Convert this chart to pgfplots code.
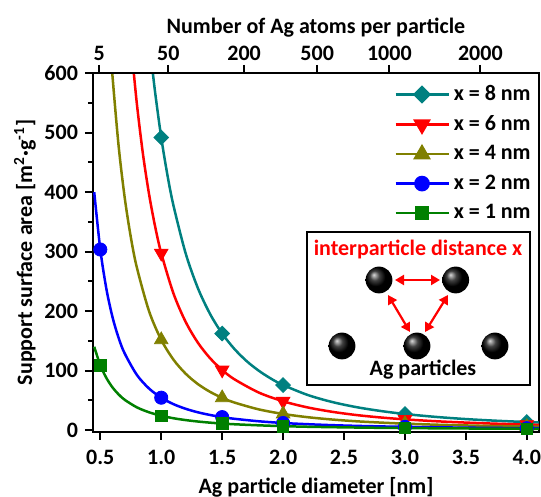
\documentclass[border=0pt]{standalone}
\usepackage{fontspec}
\setmainfont{Carlito}
\usepackage{pgfplots}
\pgfplotsset{compat=1.18}
\usetikzlibrary{arrows.meta}
\definecolor{cteal}{RGB}{0,128,128}
\definecolor{cred}{RGB}{255,0,0}
\definecolor{colive}{RGB}{128,128,0}
\definecolor{cblue}{RGB}{0,0,255}
\definecolor{cgreen}{RGB}{0,128,0}
\newcommand\ff{\bfseries\fontsize{11}{13.2}\selectfont}
\begin{document}
\begin{tikzpicture}
\begin{axis}[
  width=223pt, height=179.5pt, scale only axis,
  xmin=0.44, xmax=4.1, ymin=-3, ymax=600,
  axis line style={line width=1pt},
  xtick={0.5,1.0,1.5,2.0,2.5,3.0,3.5,4.0},
  ytick={0,100,200,300,400,500,600},
  minor y tick num=1,
  xtick pos=bottom, ytick pos=left,
  tick align=outside,
  major tick length=4pt, minor tick length=2.5pt,
  every tick/.style={line width=1pt, black},
  /pgf/number format/assume math mode=true,
  tick label style={font=\ff},
  xticklabel style={yshift=-1.5pt, /pgf/number format/.cd, fixed, fixed zerofill, precision=1},
  label style={font=\ff},
  xlabel={Ag particle diameter [nm]},
  ylabel={Support surface area [m\textsuperscript{2}·g\textsuperscript{-1}]},
  xlabel style={at={(axis description cs:0.5,-0.1532)}, anchor=center},
  ylabel style={at={(axis description cs:-0.1525,0.5)}, anchor=center},
  legend image code/.code={\draw[mark repeat=2,mark phase=2] plot coordinates {(0pt,0pt) (13.25pt,0pt) (26.5pt,0pt)};},
  legend style={draw=none, fill=none, font=\ff, at={(axis description cs:1,1)}, anchor=north east, xshift=-1pt, yshift=-3pt, row sep=2pt, inner sep=1pt},
  legend cell align=left,
]
\addlegendimage{cteal, line width=1.25pt, mark=square*, mark size=2.6pt, mark options={rotate=45, fill=cteal, solid}}
\addlegendentry{x = 8 nm}
\addlegendimage{cred, line width=1.25pt, mark=triangle*, mark size=3.9pt, mark options={rotate=180, fill=cred, solid}}
\addlegendentry{x = 6 nm}
\addlegendimage{colive, line width=1.25pt, mark=triangle*, mark size=3.9pt, mark options={fill=colive, solid}}
\addlegendentry{x = 4 nm}
\addlegendimage{cblue, line width=1.25pt, mark=*, mark size=3.3pt, mark options={fill=cblue, solid}}
\addlegendentry{x = 2 nm}
\addlegendimage{cgreen, line width=1.25pt, mark=square*, mark size=2.9pt, mark options={fill=cgreen, solid}}
\addlegendentry{x = 1 nm}

% x = 8 nm
\addplot[cteal, line width=1.25pt, smooth, no marks, forget plot] coordinates {
(0.92,620.2)(0.95,567.1)(1.0,491.7)(1.05,429.5)(1.1,377.7)(1.2,297.3)(1.3,239.0)(1.4,195.5)(1.5,162.3)(1.6,136.6)(1.7,116.2)(1.8,100.0)(1.9,86.7)(2.0,75.9)(2.2,59.3)(2.4,47.5)(2.6,38.8)(2.8,32.3)(3.0,27.2)(3.25,22.4)(3.5,18.7)(3.75,15.9)(4.0,13.7)(4.1,12.9)};
\addplot[cteal, only marks, mark=square*, mark size=2.6pt, mark options={rotate=45, fill=cteal}, forget plot] coordinates {
(1.0,491.7)(1.5,162.3)(2.0,75.9)(3.0,27.2)(4.0,13.7)};
% x = 6 nm
\addplot[cred, line width=1.25pt, smooth, no marks, forget plot] coordinates {
(0.76,631.9)(0.8,548.2)(0.85,463.8)(0.9,396.4)(0.95,342.0)(1.0,297.4)(1.1,229.9)(1.2,182.1)(1.3,147.2)(1.4,121.1)(1.5,101.2)(1.6,85.6)(1.8,63.3)(2.0,48.6)(2.2,38.3)(2.4,31.0)(2.6,25.5)(2.8,21.4)(3.0,18.2)(3.25,15.1)(3.5,12.8)(3.75,10.9)(4.0,9.5)(4.1,9.0)};
\addplot[cred, only marks, mark=triangle*, mark size=3.9pt, mark options={rotate=180, fill=cred}, forget plot] coordinates {
(1.0,297.4)(1.5,101.2)(2.0,48.6)(3.0,18.2)(4.0,9.5)};
% x = 4 nm
\addplot[colive, line width=1.25pt, smooth, no marks, forget plot] coordinates {
(0.58,652.6)(0.6,594.6)(0.65,477.9)(0.7,390.9)(0.75,324.6)(0.8,273.2)(0.9,199.9)(1.0,151.8)(1.1,118.6)(1.2,95.0)(1.3,77.6)(1.4,64.5)(1.5,54.4)(1.6,46.5)(1.8,35.0)(2.0,27.3)(2.2,21.9)(2.4,18.0)(2.6,15.0)(2.8,12.8)(3.0,11.0)(3.25,9.3)(3.5,8.0)(3.75,6.9)(4.0,6.1)(4.1,5.8)};
\addplot[colive, only marks, mark=triangle*, mark size=3.9pt, mark options={fill=colive}, forget plot] coordinates {
(1.0,151.8)(1.5,54.4)(2.0,27.3)(3.0,11.0)(4.0,6.1)};
% x = 2 nm
\addplot[cblue, line width=1.25pt, smooth, no marks, forget plot] coordinates {
(0.45,399.8)(0.5,303.5)(0.55,237.2)(0.6,190.0)(0.65,155.2)(0.7,129.0)(0.8,92.9)(0.9,70.0)(1.0,54.6)(1.1,43.8)(1.2,36.0)(1.3,30.1)(1.4,25.6)(1.5,22.0)(1.6,19.2)(1.8,15.0)(2.0,12.1)(2.2,10.1)(2.4,8.5)(2.6,7.3)(2.8,6.4)(3.0,5.6)(3.25,4.9)(3.5,4.3)(3.75,3.8)(4.0,3.4)(4.1,3.3)};
\addplot[cblue, only marks, mark=*, mark size=3.3pt, mark options={fill=cblue}, forget plot] coordinates {
(0.5,303.5)(1.0,54.6)(1.5,22.0)(2.0,12.1)(3.0,5.6)(4.0,3.4)};
% x = 1 nm
\addplot[cgreen, line width=1.25pt, smooth, no marks, forget plot] coordinates {
(0.45,140.1)(0.5,109.3)(0.55,87.7)(0.6,71.9)(0.65,60.2)(0.7,51.1)(0.8,38.4)(0.9,30.1)(1.0,24.3)(1.1,20.1)(1.2,17.0)(1.3,14.6)(1.4,12.7)(1.5,11.2)(1.6,10.0)(1.8,8.2)(2.0,6.8)(2.2,5.8)(2.4,5.1)(2.6,4.5)(2.8,4.0)(3.0,3.6)(3.25,3.2)(3.5,2.9)(3.75,2.6)(4.0,2.4)(4.1,2.3)};
\addplot[cgreen, only marks, mark=square*, mark size=2.9pt, mark options={fill=cgreen}, forget plot] coordinates {
(0.5,109.3)(1.0,24.3)(1.5,11.2)(2.0,6.8)(3.0,3.6)(4.0,2.4)};
\end{axis}
\begin{axis}[
  width=223pt, height=179.5pt, scale only axis,
  xmin=0.44, xmax=4.1, ymin=-3, ymax=600,
  axis x line*=top, axis y line=none,
  axis line style={line width=1pt, -},
  xtick={0.4912,1.0582,1.680,2.280,2.872,3.619},
  xticklabels={5,50,200,500,1000,2000},
  tick align=outside, major tick length=4pt,
  every tick/.style={line width=1pt, black},
  tick label style={font=\ff, yshift=-1.2pt},
  label style={font=\ff},
  xlabel={Number of Ag atoms per particle},
  xlabel style={at={(axis description cs:0.5,1.126)}, anchor=center},
]
\end{axis}
% inset
\draw[line width=1.2pt, fill=white] (107pt,23.5pt) rectangle (218.5pt,100pt);
\node[font=\ff, text=cred] at (162.5pt,91pt) {interparticle distance x};
\node[font=\ff] at (165pt,31pt) {Ag particles};
\foreach \p in {(143pt,76pt),(181.35pt,76pt),(124.5pt,43pt),(162pt,43pt),(201pt,43pt)}
  \shade[ball color=black] \p circle (6.7pt);
\draw[cred, line width=1.1pt, {Triangle[length=4.5pt,width=5pt]}-{Triangle[length=4.5pt,width=5pt]}] (151pt,76pt) -- (173.5pt,76pt);
\draw[cred, line width=1.1pt, {Triangle[length=4.5pt,width=5pt]}-{Triangle[length=4.5pt,width=5pt]}] (147.5pt,68.5pt) -- (158.5pt,50pt);
\draw[cred, line width=1.1pt, {Triangle[length=4.5pt,width=5pt]}-{Triangle[length=4.5pt,width=5pt]}] (177.5pt,68.5pt) -- (166pt,50pt);
\pgfresetboundingbox
\path[use as bounding box] (-46.5pt,-32.5pt) rectangle (224pt,216pt);
\end{tikzpicture}
\end{document}
